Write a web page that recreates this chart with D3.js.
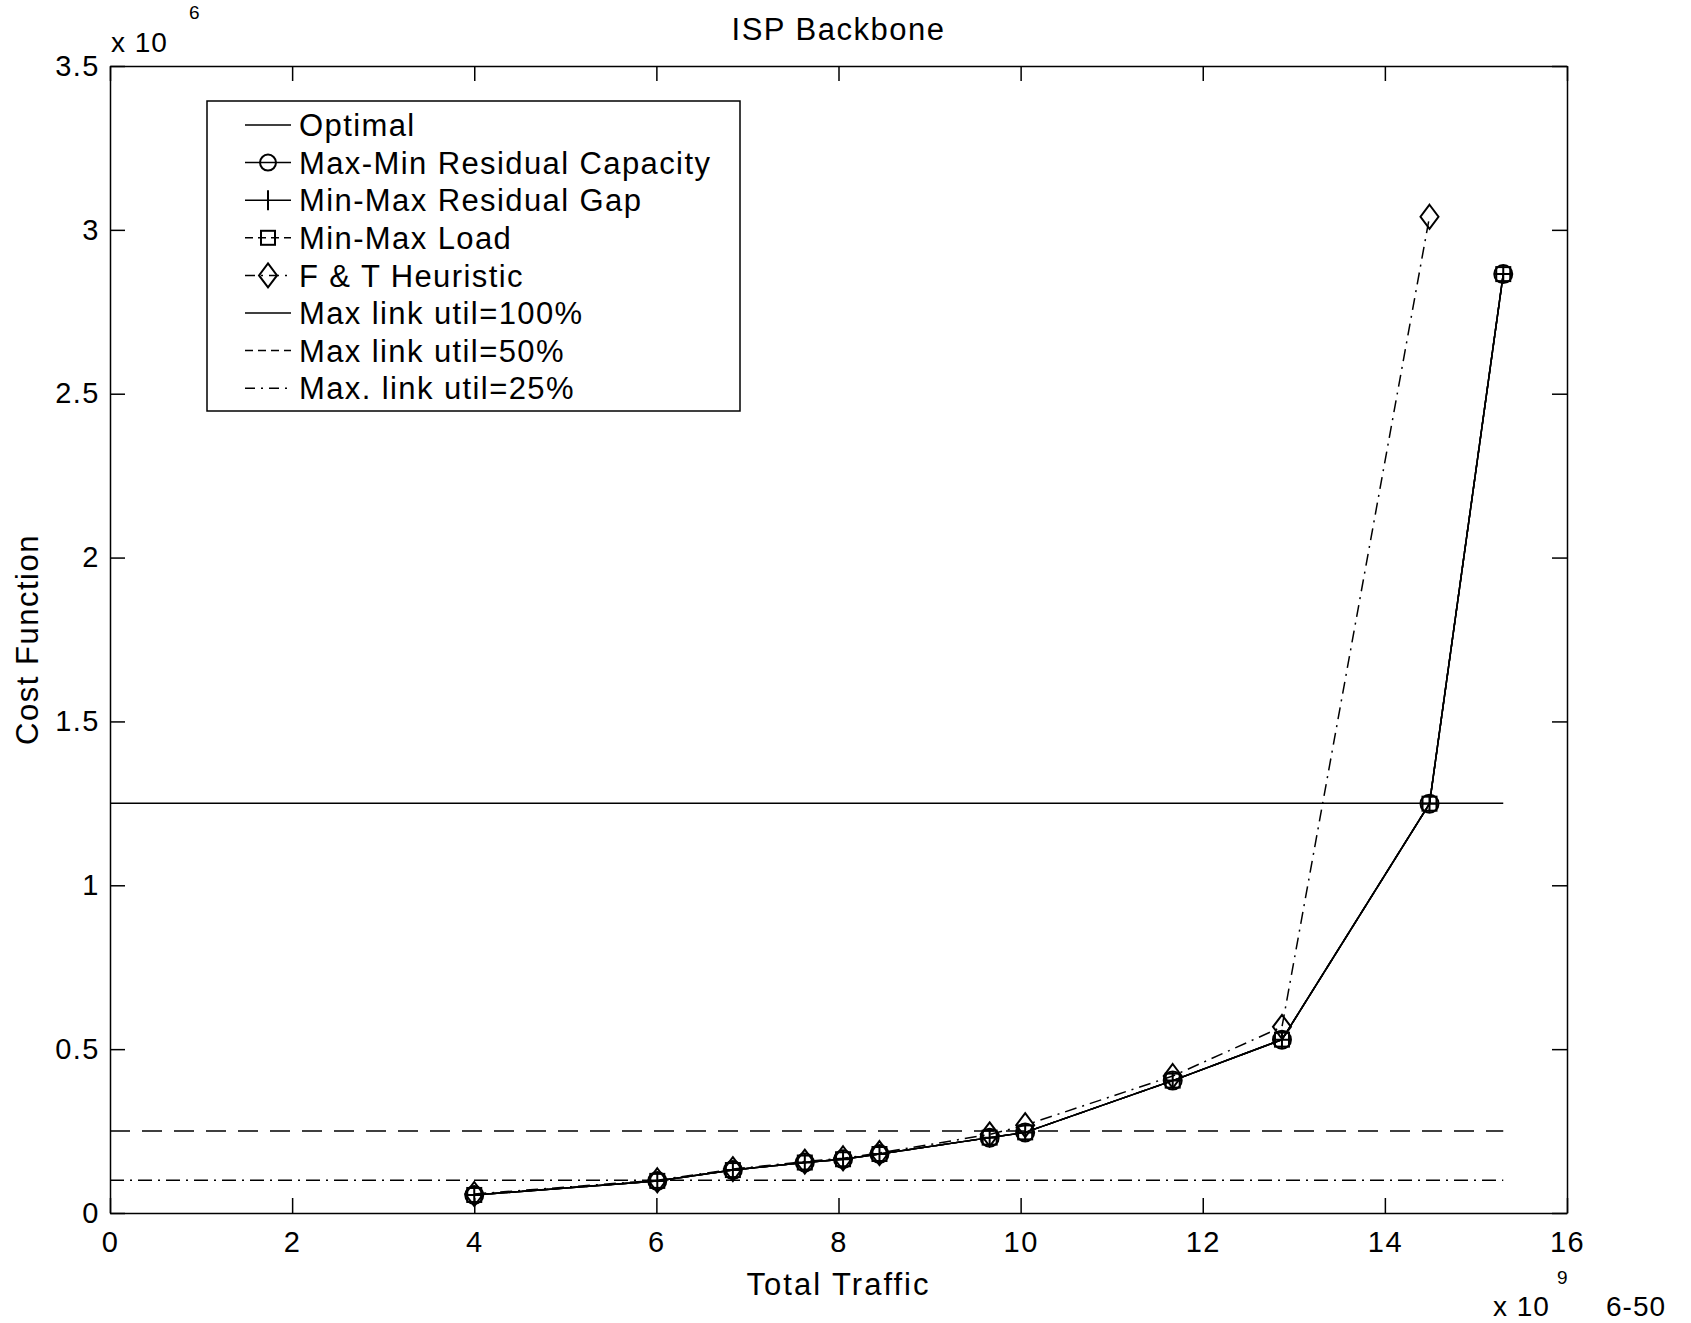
<!DOCTYPE html>
<meta charset="utf-8">
<style>
body { margin: 0; background: #fff; }
svg { font-family: "Liberation Sans", Arial, sans-serif; }
.axis path, .axis line { stroke: #000; stroke-width: 1.5px; }
.axis text { font-size: 29px; letter-spacing: 1.5px; fill: #000; }
.series { fill: none; stroke: #000; stroke-width: 1.5px; }
.mark { fill: none; stroke: #000; stroke-width: 2px; }
</style>
<svg width="1691" height="1323"></svg>
<script src="https://cdn.jsdelivr.net/npm/d3@7"></script>
<script>

// traffic in units of 1e9, cost in units of 1e6
var traffic = [4.0, 6.01, 6.84, 7.63, 8.05, 8.45, 9.66, 10.05, 11.67, 12.87, 14.49, 15.30];
var optimal      = [0.055, 0.098, 0.131, 0.154, 0.164, 0.180, 0.230, 0.246, 0.404, 0.529, 1.249, 2.865];
var maxMinResCap = [0.055, 0.098, 0.131, 0.154, 0.164, 0.180, 0.230, 0.246, 0.404, 0.529, 1.249, 2.865];
var minMaxResGap = [0.055, 0.098, 0.131, 0.154, 0.164, 0.180, 0.230, 0.246, 0.404, 0.529, 1.249, 2.865];
var minMaxLoad   = [0.055, 0.098, 0.131, 0.154, 0.164, 0.180, 0.230, 0.246, 0.404, 0.529, 1.249, 2.865];

var ftTraffic   = [4.0, 6.01, 6.84, 7.63, 8.05, 8.45, 9.66, 10.05, 11.67, 12.87, 14.49];
var ftHeuristic = [0.058, 0.100, 0.134, 0.157, 0.167, 0.183, 0.240, 0.268, 0.418, 0.568, 3.04];

var utilLabels = ["Max link util=100%", "Max link util=50%", "Max. link util=25%"];
var utilLevels = [1.25, 0.25, 0.10];
var utilRange  = [0, 15.3];

var xTicks = [0, 2, 4, 6, 8, 10, 12, 14, 16];
var yTicks = [0, 0.5, 1, 1.5, 2, 2.5, 3, 3.5];

var svg = d3.select("svg"),
    margin = {top: 66, right: 124, bottom: 110, left: 110},
    width = svg.attr("width") - margin.left - margin.right,
    height = svg.attr("height") - margin.top - margin.bottom,
    g = svg.append("g").attr("transform", "translate(" + margin.left + "," + margin.top + ")");

var x = d3.scaleLinear().domain([0, 16]).range([0, width]),
    y = d3.scaleLinear().domain([0, 3.5]).range([height, 0]);

var fmt = function(d) { return String(d); };

// box + inward ticks on all four sides
g.append("g").attr("class", "axis")
    .attr("transform", "translate(0," + height + ")")
    .call(d3.axisBottom(x).tickValues(xTicks).tickSizeInner(-15).tickSizeOuter(0).tickPadding(18).tickFormat(fmt));
g.append("g").attr("class", "axis")
    .call(d3.axisTop(x).tickValues(xTicks).tickSizeInner(-15).tickSizeOuter(0).tickFormat(""));
g.append("g").attr("class", "axis")
    .call(d3.axisLeft(y).tickValues(yTicks).tickSizeInner(-15).tickSizeOuter(0).tickPadding(10).tickFormat(fmt));
g.append("g").attr("class", "axis")
    .attr("transform", "translate(" + width + ",0)")
    .call(d3.axisRight(y).tickValues(yTicks).tickSizeInner(-15).tickSizeOuter(0).tickFormat(""));
g.selectAll(".axis text").attr("fill", "#000");

var line = d3.line()
    .x(function(d) { return x(d[0]); })
    .y(function(d) { return y(d[1]); });

var dashes = ["none", "20,12", "14,6,2,6"];

// horizontal reference lines
utilLevels.forEach(function(v, i) {
  g.append("path")
      .attr("class", "series")
      .attr("stroke-dasharray", dashes[i])
      .attr("d", line([[utilRange[0], v], [utilRange[1], v]]));
});

function zip(xs, ys) { return xs.map(function(d, i) { return [d, ys[i]]; }); }

var series = [
  {name: "Optimal", xs: traffic, ys: optimal, dash: "none", mark: null},
  {name: "Max-Min Residual Capacity", xs: traffic, ys: maxMinResCap, dash: "none", mark: "circle"},
  {name: "Min-Max Residual Gap", xs: traffic, ys: minMaxResGap, dash: "none", mark: "plus"},
  {name: "Min-Max Load", xs: traffic, ys: minMaxLoad, dash: "10,6", mark: "square"},
  {name: "F & T Heuristic", xs: ftTraffic, ys: ftHeuristic, dash: "12,6,2,6", mark: "diamond"}
];

function drawMark(sel, type) {
  if (type === "circle") sel.append("circle").attr("class", "mark").attr("r", 9);
  if (type === "plus") sel.append("path").attr("class", "mark").attr("d", "M-9,0H9M0,-9V9");
  if (type === "square") sel.append("rect").attr("class", "mark").attr("x", -7).attr("y", -7).attr("width", 14).attr("height", 14);
  if (type === "diamond") sel.append("path").attr("class", "mark").attr("stroke-width", 1.5).attr("d", "M0,-12L9,0L0,12L-9,0Z");
}

series.forEach(function(s) {
  var pts = zip(s.xs, s.ys);
  g.append("path")
      .attr("class", "series")
      .attr("stroke-dasharray", s.dash)
      .attr("d", line(pts));
  if (s.mark) {
    var m = g.selectAll(null).data(pts).enter().append("g")
        .attr("transform", function(d) { return "translate(" + x(d[0]) + "," + y(d[1]) + ")"; });
    drawMark(m, s.mark);
  }
});

// legend
var legend = svg.append("g").attr("transform", "translate(207,101)");
legend.append("rect")
    .attr("width", 533).attr("height", 310)
    .attr("fill", "#fff").attr("stroke", "#000").attr("stroke-width", 1.5);

var legendItems = series.map(function(s) { return {name: s.name, dash: s.dash, mark: s.mark}; })
    .concat(utilLabels.map(function(l, i) { return {name: l, dash: dashes[i], mark: null}; }));

var row = legend.selectAll(".row").data(legendItems).enter().append("g")
    .attr("transform", function(d, i) { return "translate(0," + (24 + i * 37.6) + ")"; });
row.append("line")
    .attr("x1", 38).attr("x2", 84)
    .attr("stroke", "#000").attr("stroke-width", 1.5)
    .attr("stroke-dasharray", function(d) { return d.dash === "none" ? null : (d.dash.split(",").length > 2 ? "10,6,2,6" : "8,5"); });
row.each(function(d) {
  var gg = d3.select(this).append("g").attr("transform", "translate(61,0)");
  if (d.mark === "circle") gg.append("circle").attr("class", "mark").attr("stroke-width", 1.5).attr("r", 8);
  if (d.mark === "plus") gg.append("path").attr("class", "mark").attr("stroke-width", 1.5).attr("d", "M0,-10V10");
  if (d.mark === "square") gg.append("rect").attr("class", "mark").attr("stroke-width", 1.5).attr("x", -7).attr("y", -7).attr("width", 14).attr("height", 14);
  if (d.mark === "diamond") gg.append("path").attr("class", "mark").attr("stroke-width", 1.5).attr("d", "M0,-12L9,0L0,12L-9,0Z");
});
row.append("text")
    .attr("x", 92).attr("dy", "0.36em")
    .style("font-size", "31px").style("letter-spacing", "1.4px")
    .text(function(d) { return d.name; });

// titles
svg.append("text")
    .attr("x", margin.left + width / 2).attr("y", 40)
    .attr("text-anchor", "middle").style("font-size", "31px").style("letter-spacing", "1.5px")
    .text("ISP Backbone");

svg.append("text")
    .attr("transform", "translate(38," + (margin.top + height / 2) + ") rotate(-90)")
    .attr("text-anchor", "middle").style("font-size", "31px").style("letter-spacing", "1.5px")
    .text("Cost Function");

svg.append("text")
    .attr("x", margin.left + width / 2).attr("y", 1295)
    .attr("text-anchor", "middle").style("font-size", "31px").style("letter-spacing", "2px")
    .text("Total Traffic");

// exponent labels
svg.append("text").attr("x", 111).attr("y", 52).style("font-size", "28px").style("letter-spacing", "1px").text("x 10");
svg.append("text").attr("x", 189).attr("y", 19).style("font-size", "19px").text("6");

svg.append("text").attr("x", 1493).attr("y", 1316).style("font-size", "28px").style("letter-spacing", "1px").text("x 10");
svg.append("text").attr("x", 1557).attr("y", 1284).style("font-size", "19px").text("9");

svg.append("text").attr("x", 1606).attr("y", 1316).style("font-size", "28px").style("letter-spacing", "1px").text("6-50");

</script>
